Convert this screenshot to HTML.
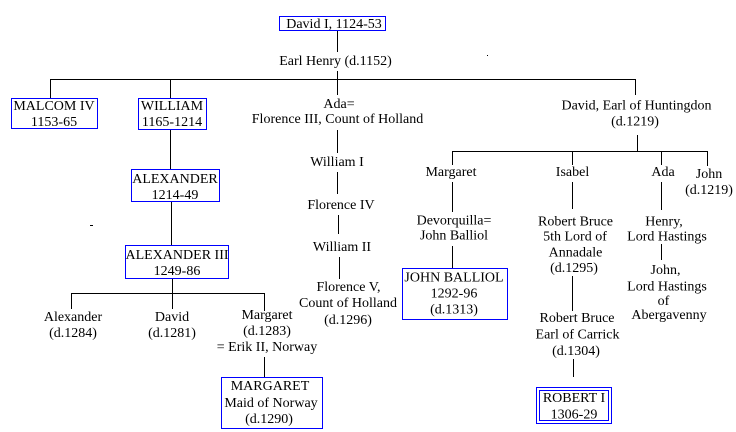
<!DOCTYPE html>
<html>
<head>
<meta charset="utf-8">
<style>
html,body{margin:0;padding:0;background:#fff;}
svg{display:block;}
text{font-family:"Liberation Serif","Times New Roman",serif;font-size:14px;fill:#000;text-anchor:middle;}
</style>
</head>
<body>
<svg width="736" height="432" viewBox="0 0 736 432" xmlns="http://www.w3.org/2000/svg">
<rect x="0" y="0" width="736" height="432" fill="#fff"/>
<g stroke="#000" stroke-width="1" fill="none" shape-rendering="crispEdges">
  <line x1="337.5" y1="31" x2="337.5" y2="52"/>
  <line x1="337.5" y1="71" x2="337.5" y2="95"/>
  <line x1="50" y1="79.5" x2="635.5" y2="79.5"/>
  <line x1="50.5" y1="79" x2="50.5" y2="98"/>
  <line x1="170.5" y1="79" x2="170.5" y2="98"/>
  <line x1="635.5" y1="79" x2="635.5" y2="95"/>
  <line x1="170.5" y1="130" x2="170.5" y2="169"/>
  <line x1="171.5" y1="202" x2="171.5" y2="245"/>
  <line x1="172.5" y1="279" x2="172.5" y2="309"/>
  <line x1="71" y1="293.5" x2="264.5" y2="293.5"/>
  <line x1="71.5" y1="293" x2="71.5" y2="309"/>
  <line x1="264.5" y1="293" x2="264.5" y2="311"/>
  <line x1="264.5" y1="357" x2="264.5" y2="377"/>
  <line x1="337.5" y1="130" x2="337.5" y2="153"/>
  <line x1="337.5" y1="172" x2="337.5" y2="194"/>
  <line x1="338.5" y1="215" x2="338.5" y2="234"/>
  <line x1="339.5" y1="257" x2="339.5" y2="279"/>
  <line x1="637.5" y1="135" x2="637.5" y2="151"/>
  <line x1="452" y1="151.5" x2="707.5" y2="151.5"/>
  <line x1="452.5" y1="151" x2="452.5" y2="165"/>
  <line x1="572.5" y1="151" x2="572.5" y2="165"/>
  <line x1="661.5" y1="151" x2="661.5" y2="165"/>
  <line x1="707.5" y1="151" x2="707.5" y2="166"/>
  <line x1="452.5" y1="182" x2="452.5" y2="212"/>
  <line x1="572.5" y1="182" x2="572.5" y2="209"/>
  <line x1="661.5" y1="182" x2="661.5" y2="210"/>
  <line x1="452.5" y1="246" x2="452.5" y2="268"/>
  <line x1="572.5" y1="276" x2="572.5" y2="311"/>
  <line x1="573.5" y1="359" x2="573.5" y2="377"/>
  <line x1="661.5" y1="244" x2="661.5" y2="260"/>
  <line x1="90" y1="225.5" x2="93" y2="225.5"/>
  <line x1="487" y1="55.5" x2="488" y2="55.5"/>
</g>
<g stroke="#0000ff" stroke-width="1" fill="none" shape-rendering="crispEdges">
  <rect x="279.5" y="16.5" width="106" height="14"/>
  <rect x="11.5" y="98.5" width="86" height="30"/>
  <rect x="138.5" y="98.5" width="68" height="31"/>
  <rect x="131.5" y="169.5" width="88" height="32"/>
  <rect x="125.5" y="245.5" width="103" height="33"/>
  <rect x="221.5" y="377.5" width="101" height="51"/>
  <rect x="402.5" y="268.5" width="105" height="51"/>
  <rect x="536.5" y="387.5" width="75" height="36"/>
  <rect x="539.5" y="390.5" width="69" height="30"/>
</g>
<g>
  <text x="334" y="28">David I, 1124-53</text>
  <text x="335.5" y="65">Earl Henry (d.1152)</text>

  <text x="54" y="110">MALCOM IV</text>
  <text x="54" y="126">1153-65</text>
  <text x="172" y="110">WILLIAM</text>
  <text x="172" y="126">1165-1214</text>
  <text x="175" y="183">ALEXANDER</text>
  <text x="175" y="199">1214-49</text>
  <text x="177" y="259">ALEXANDER III</text>
  <text x="177" y="275">1249-86</text>

  <text x="73" y="321">Alexander</text>
  <text x="73" y="337">(d.1284)</text>
  <text x="172" y="321">David</text>
  <text x="172" y="337">(d.1281)</text>
  <text x="267" y="319">Margaret</text>
  <text x="267" y="335">(d.1283)</text>
  <text x="267" y="351">= Erik II, Norway</text>
  <text x="270" y="390">MARGARET</text>
  <text x="271" y="407">Maid of Norway</text>
  <text x="269" y="423">(d.1290)</text>

  <text x="339" y="108">Ada=</text>
  <text x="337.5" y="123">Florence III, Count of Holland</text>
  <text x="337" y="166">William I</text>
  <text x="341" y="209">Florence IV</text>
  <text x="342" y="251">William II</text>
  <text x="348.5" y="291">Florence V,</text>
  <text x="348" y="307">Count of Holland</text>
  <text x="348" y="324">(d.1296)</text>

  <text x="636.5" y="109.5">David, Earl of Huntingdon</text>
  <text x="635" y="125.5">(d.1219)</text>
  <text x="451" y="176">Margaret</text>
  <text x="572.5" y="176">Isabel</text>
  <text x="663" y="176">Ada</text>
  <text x="709" y="178">John</text>
  <text x="709" y="194">(d.1219)</text>

  <text x="454" y="224.5">Devorquilla=</text>
  <text x="454" y="239.5">John Balliol</text>
  <text x="454" y="281.5">JOHN BALLIOL</text>
  <text x="454" y="297.5">1292-96</text>
  <text x="454" y="313.5">(d.1313)</text>

  <text x="575.5" y="225.5">Robert Bruce</text>
  <text x="575" y="240.5">5th Lord of</text>
  <text x="575.5" y="256.5">Annadale</text>
  <text x="574" y="272">(d.1295)</text>
  <text x="577" y="322">Robert Bruce</text>
  <text x="577.5" y="338.5">Earl of Carrick</text>
  <text x="576" y="355">(d.1304)</text>
  <text x="574" y="402">ROBERT I</text>
  <text x="574" y="418.5">1306-29</text>

  <text x="664" y="225.5">Henry,</text>
  <text x="667" y="240.5">Lord Hastings</text>
  <text x="665.5" y="274">John,</text>
  <text x="667" y="290.5">Lord Hastings</text>
  <text x="663.5" y="305">of</text>
  <text x="669" y="319">Abergavenny</text>
</g>
</svg>
</body>
</html>
